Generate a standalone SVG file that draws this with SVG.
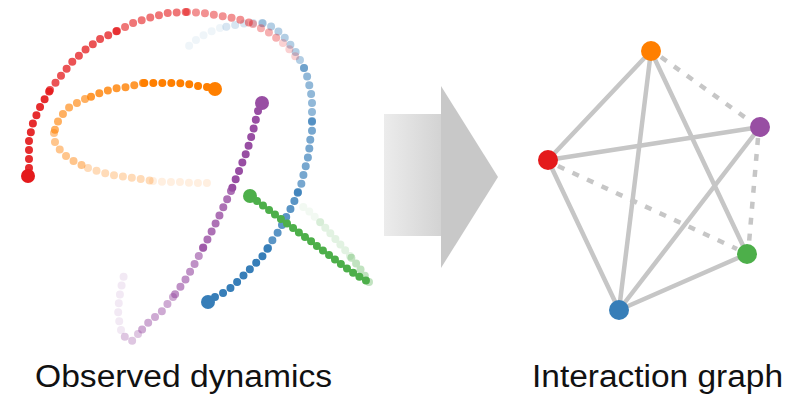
<svg xmlns="http://www.w3.org/2000/svg" width="810" height="400" viewBox="0 0 810 400">
  <defs>
    <linearGradient id="shaftGrad" x1="0" y1="0" x2="1" y2="0">
      <stop offset="0" stop-color="#ececec"/>
      <stop offset="1" stop-color="#d3d3d3"/>
    </linearGradient>
    <style>
      .trail { fill: none; stroke-width: 8; stroke-linecap: round; stroke-dasharray: 0 9; }
      .dense { stroke-dasharray: 0 7.5; }
      .red { stroke: #e41a1c; } .orange { stroke: #ff7f00; } .purple { stroke: #984ea3; }
      .blue { stroke: #377eb8; } .green { stroke: #4daf4a; }
      .edge { stroke: #c6c6c6; stroke-width: 4.5; fill: none; stroke-linecap: round; }
      .dashed { stroke-dasharray: 7 9; stroke-linecap: butt; }
      .label { font-family: "Liberation Sans", Arial, sans-serif; font-size: 31px; fill: #111; }
    </style>
  </defs>

  <rect width="810" height="400" fill="#ffffff"/>

  <!-- trajectories: older samples fade out -->
  <g id="traj-orange">
    <path class="trail orange" opacity="0.12" d="M153,181 L167,182 L180,182 L193,183 L207,183 L215,184"/>
    <path class="trail orange" opacity="0.28" d="M88,168 L100,172 L113,175 L127,177 L140,179 L153,181"/>
    <path class="trail orange" opacity="0.45" d="M54,133 L55,142 L60,150 L67,157 L77,163 L88,168"/>
    <path class="trail orange" opacity="0.62" d="M85,99 L77,103 L68,108 L62,115 L57,123 L54,133"/>
    <path class="trail orange" opacity="0.8" d="M143,83 L135,85 L127,87 L118,88 L110,90 L102,92 L93,96 L85,99"/>
    <path class="trail orange" d="M207,87 L197,86 L188,84 L179,83 L170,83 L161,83 L152,83 L143,83"/>
    <circle cx="215" cy="89" r="7" fill="#ff7f00"/>
  </g>

  <g id="traj-blue">
    <path class="trail blue" opacity="0.08" d="M220,28 L210,32 L200,37 L192,43 L184,51"/>
    <path class="trail blue" opacity="0.2" d="M262,23 L247,23 L230,26 L220,28"/>
    <path class="trail blue" opacity="0.38" d="M304,68 L297,54 L287,40 L275,28 L262,23"/>
    <path class="trail blue" opacity="0.55" d="M312,121 L312,111 L312,102 L311,93 L309,84 L307,76 L304,68"/>
    <path class="trail blue" opacity="0.68" d="M298,192 L302,182 L304,172 L307,162 L309,152 L310,141 L312,131 L312,121"/>
    <path class="trail blue" opacity="0.82" d="M268,248 L273,239 L279,231 L284,221 L289,212 L294,202 L298,192"/>
    <path class="trail blue" d="M215,297 L225,292 L233,286 L240,279 L247,272 L254,265 L262,257 L268,248"/>
    <circle cx="208" cy="302" r="7" fill="#377eb8"/>
  </g>

  <g id="traj-red">
    <path class="trail red" opacity="0.2" d="M283,43 L293,53 L298,60"/>
    <path class="trail red" opacity="0.35" d="M253,24 L270,33 L283,43"/>
    <path class="trail red" opacity="0.48" d="M187,12 L203,13 L222,16 L238,19 L253,24"/>
    <path class="trail red" opacity="0.6" d="M117,31 L133,23 L152,17 L168,13 L187,12"/>
    <path class="trail red" opacity="0.75" d="M50,90 L60,77 L72,62 L85,50 L100,39 L117,31"/>
    <path class="trail red" opacity="0.92" d="M29,168 L29,157 L29,140 L33,123 L40,107 L50,90"/>
    <circle cx="28" cy="176" r="7" fill="#e41a1c"/>
  </g>

  <g id="traj-purple">
    <path class="trail purple" opacity="0.12" d="M121,330 L118,315 L119,300 L121,288 L124,275"/>
    <path class="trail purple" opacity="0.32" d="M138,334 L132,341 L126,339 L121,330"/>
    <path class="trail purple" opacity="0.48" d="M173,297 L162,311 L148,323 L138,334"/>
    <path class="trail purple" opacity="0.62" d="M203,248 L194,265 L184,282 L173,297"/>
    <path class="trail purple" opacity="0.8" d="M231,191 L222,210 L213,229 L203,248"/>
    <path class="trail purple" d="M258,111 L253,131 L247,151 L239,171 L231,191"/>
    <circle cx="262" cy="103" r="7" fill="#984ea3"/>
  </g>

  <g id="traj-green">
    <path class="trail green dense" opacity="0.07" d="M320,222 L310,212 L302,206"/>
    <path class="trail green dense" opacity="0.16" d="M350,256 L340,244 L330,233 L320,222"/>
    <path class="trail green dense" opacity="0.35" d="M369,282 L365,276 L358,266 L350,256"/>
    <path class="trail green dense" d="M257,201 L265,207 L272,212 L278,217 L285,222 L292,227 L298,232 L305,237 L312,242 L318,247 L325,252 L332,257 L338,262 L345,267 L352,272 L358,276 L365,280 L369,282"/>
    <circle cx="250" cy="196" r="7" fill="#4daf4a"/>
  </g>

  <!-- big arrow between the panels -->
  <g id="arrow">
    <rect x="384" y="114" width="57" height="122" fill="url(#shaftGrad)"/>
    <polygon points="441,86 498,177 441,268" fill="#c8c8c8"/>
  </g>

  <!-- interaction graph edges -->
  <g id="edges">
    <line class="edge" x1="651" y1="51" x2="548" y2="160"/>
    <line class="edge" x1="651" y1="51" x2="619" y2="310"/>
    <line class="edge" x1="651" y1="51" x2="747" y2="254"/>
    <line class="edge" x1="548" y1="160" x2="760" y2="127"/>
    <line class="edge" x1="548" y1="160" x2="619" y2="310"/>
    <line class="edge" x1="760" y1="127" x2="619" y2="310"/>
    <line class="edge" x1="747" y1="254" x2="619" y2="310"/>
    <line class="edge dashed" x1="661" y1="57" x2="750" y2="121"/>
    <line class="edge dashed" x1="558" y1="166" x2="737" y2="249"/>
    <line class="edge dashed" x1="758" y1="138" x2="749" y2="243"/>
  </g>

  <g id="node-orange"><circle cx="651" cy="51" r="10" fill="#ff7f00"/></g>
  <g id="node-purple"><circle cx="760" cy="127" r="10" fill="#984ea3"/></g>
  <g id="node-red"><circle cx="548" cy="160" r="10" fill="#e41a1c"/></g>
  <g id="node-green"><circle cx="747" cy="254" r="10" fill="#4daf4a"/></g>
  <g id="node-blue"><circle cx="619" cy="310" r="10" fill="#377eb8"/></g>

  <text class="label" x="35" y="387" textLength="297" lengthAdjust="spacingAndGlyphs">Observed dynamics</text>
  <text class="label" x="532" y="387" textLength="251" lengthAdjust="spacingAndGlyphs">Interaction graph</text>
</svg>
